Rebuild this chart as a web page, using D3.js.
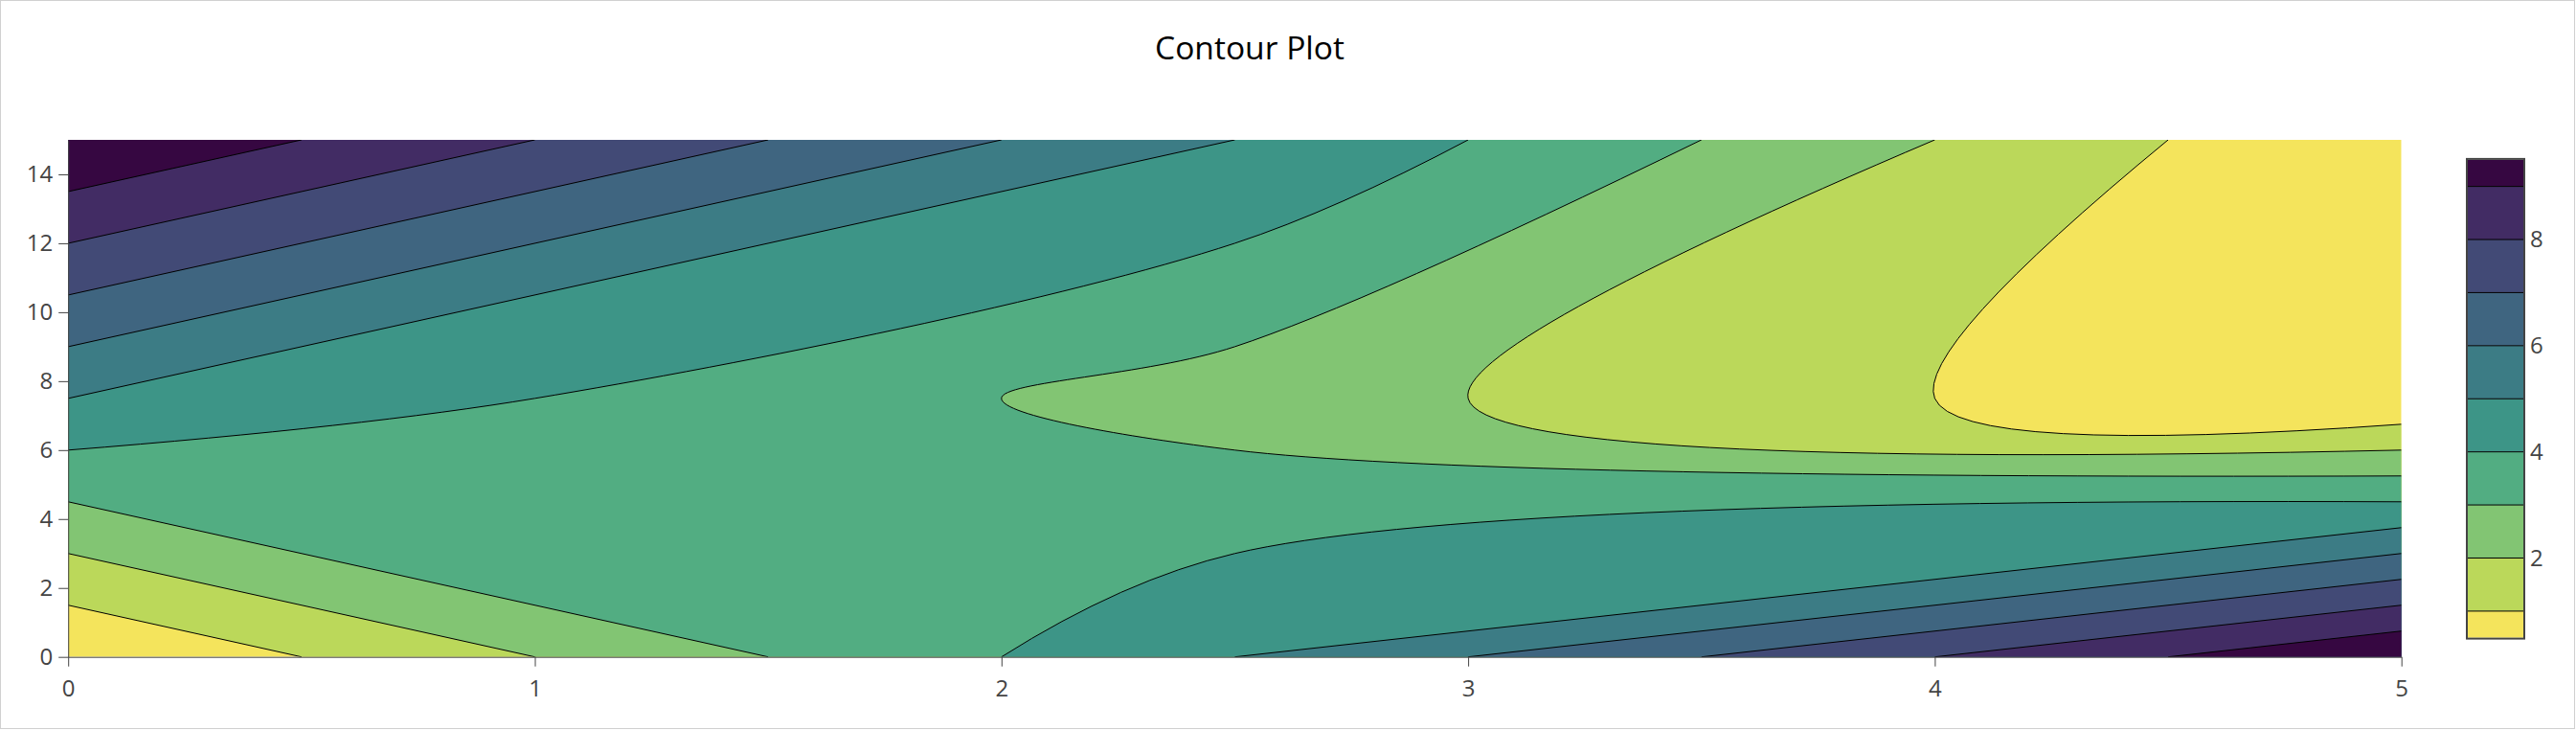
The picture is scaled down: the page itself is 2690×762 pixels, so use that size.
<!DOCTYPE html>
<html>
<head>
<meta charset="utf-8">
<script src="https://cdn.jsdelivr.net/npm/d3@7"></script>
<style>
  html, body { margin: 0; padding: 0; background: #fff; }
  svg { display: block; }
</style>
</head>
<body>
<svg id="chart" width="2690" height="762"></svg>
<script>
// ---------------- data ----------------
const xValues = [0, 2.5, 5];          // grid columns
const yValues = [0, 7.5, 15];         // grid rows
const zRowY0  = [0, 5, 10];           // z at y = 0
const zRowY1  = [5, 2.5, 0];          // z at y = 7.5
const zRowY2  = [10, 5, 0];           // z at y = 15
const zValues = [zRowY0, zRowY1, zRowY2];
const contourLevels = [1, 2, 3, 4, 5, 6, 7, 8, 9];
const levelStep = 1;
const xTickValues = [0, 1, 2, 3, 4, 5];
const yTickValues = [0, 2, 4, 6, 8, 10, 12, 14];
const colorbarTickValues = [2, 4, 6, 8];
const titleText = "Contour Plot";

// ---------------- layout ----------------
const plotL = 71.2, plotR = 2507.7, plotT = 146, plotB = 685.7;
const cbX = 2576, cbW = 60, cbTop = 166.9, cbBottom = 665.6;
const FONT = "'Open Sans', 'DejaVu Sans', sans-serif";
const TXT = "#444";

const svg = d3.select("#chart");

const X0 = d3.min(xValues), X1 = d3.max(xValues);
const Y0 = d3.min(yValues), Y1 = d3.max(yValues);
const x = d3.scaleLinear().domain([X0, X1]).range([plotL, plotR]);
const y = d3.scaleLinear().domain([Y0, Y1]).range([plotB, plotT]);
const cMin = contourLevels[0] - levelStep / 2;
const cMax = contourLevels[contourLevels.length - 1] + levelStep / 2;
const viridis = d3.scaleSequential(d3.interpolateViridis).domain([cMax, cMin]);
// the reference renders the viridis scale somewhat muted
function color(v) {
  const c = d3.rgb(viridis(v));
  const L = 0.2126 * c.r + 0.7152 * c.g + 0.0722 * c.b;
  const s = 0.7;
  return d3.rgb(L + s * (c.r - L), L + s * (c.g - L), L + s * (c.b - L)).formatHex();
}

// ---------------- marching squares ----------------
function tracePaths(level) {
  const nx = xValues.length, ny = yValues.length;
  const pts = new Map();
  const node = (i, j) => ({ i, j, v: zValues[j][i] });
  const isHigh = n => n.v > level;
  function crossing(a, b, key) {
    if (pts.has(key)) return pts.get(key);
    const t = (level - a.v) / (b.v - a.v);
    const p = {
      key,
      dx: xValues[a.i] + t * (xValues[b.i] - xValues[a.i]),
      dy: yValues[a.j] + t * (yValues[b.j] - yValues[a.j]),
      high: isHigh(a) ? a : b,
      segs: []
    };
    pts.set(key, p);
    return p;
  }
  const segments = [];
  for (let j = 0; j < ny - 1; j++) {
    for (let i = 0; i < nx - 1; i++) {
      const bl = node(i, j), br = node(i + 1, j), tl = node(i, j + 1), tr = node(i + 1, j + 1);
      const edges = {
        b: [bl, br, "h" + i + "_" + j],
        t: [tl, tr, "h" + i + "_" + (j + 1)],
        l: [bl, tl, "v" + i + "_" + j],
        r: [br, tr, "v" + (i + 1) + "_" + j]
      };
      const cut = {};
      for (const k in edges) {
        const [a, b, key] = edges[k];
        if (isHigh(a) !== isHigh(b)) cut[k] = crossing(a, b, key);
      }
      const ks = Object.keys(cut);
      if (ks.length === 2) {
        segments.push([cut[ks[0]], cut[ks[1]]]);
      } else if (ks.length === 4) {
        const avg = (bl.v + br.v + tl.v + tr.v) / 4;
        const isolateHigh = level > avg;
        const corners = [[bl, "b", "l"], [br, "b", "r"], [tr, "r", "t"], [tl, "t", "l"]];
        for (const [c, e1, e2] of corners) {
          if (isHigh(c) === isolateHigh) segments.push([cut[e1], cut[e2]]);
        }
      }
    }
  }
  segments.forEach((s, idx) => { s[0].segs.push(idx); s[1].segs.push(idx); });
  const used = new Array(segments.length).fill(false);
  function walk(start) {
    const path = [start];
    let cur = start;
    for (;;) {
      const si = cur.segs.find(s => !used[s]);
      if (si === undefined) break;
      used[si] = true;
      const s = segments[si];
      const nxt = s[0] === cur ? s[1] : s[0];
      path.push(nxt);
      cur = nxt;
    }
    return path;
  }
  const open = [], closed = [];
  for (const p of pts.values()) {
    if (p.segs.length === 1 && !used[p.segs[0]]) open.push(walk(p));
  }
  for (let si = 0; si < segments.length; si++) {
    if (!used[si]) { const loop = walk(segments[si][0]); loop.pop(); closed.push(loop); }
  }
  return { open, closed };
}

// perimeter parameter, clockwise on screen starting at top-left
function perim(dx, dy) {
  const e = 1e-9;
  if (Math.abs(dy - Y1) < e) return (dx - X0) / (X1 - X0);
  if (Math.abs(dx - X1) < e) return 1 + (Y1 - dy) / (Y1 - Y0);
  if (Math.abs(dy - Y0) < e) return 2 + (X1 - dx) / (X1 - X0);
  return 3 + (dy - Y0) / (Y1 - Y0);
}
const mod4 = v => ((v % 4) + 4) % 4;

// ---------------- Plotly-like spline smoothing ----------------
function tangent(prev, cur, next, smooth) {
  const d1x = prev[0] - cur[0], d1y = prev[1] - cur[1];
  const d2x = next[0] - cur[0], d2y = next[1] - cur[1];
  const d1a = Math.pow(d1x * d1x + d1y * d1y, 0.25);
  const d2a = Math.pow(d2x * d2x + d2y * d2y, 0.25);
  const numx = (d2a * d2a * d1x - d1a * d1a * d2x) * smooth;
  const numy = (d2a * d2a * d1y - d1a * d1a * d2y) * smooth;
  const den1 = 3 * d2a * (d1a + d2a), den2 = 3 * d1a * (d1a + d2a);
  return [
    [cur[0] + (den1 && numx / den1), cur[1] + (den1 && numy / den1)],
    [cur[0] - (den2 && numx / den2), cur[1] - (den2 && numy / den2)]
  ];
}
function smoothOpen(ctx, pts, moveFirst) {
  if (moveFirst) ctx.moveTo(pts[0][0], pts[0][1]); else ctx.lineTo(pts[0][0], pts[0][1]);
  if (pts.length < 3) { for (let i = 1; i < pts.length; i++) ctx.lineTo(pts[i][0], pts[i][1]); return; }
  const tg = [];
  for (let i = 1; i < pts.length - 1; i++) tg.push(tangent(pts[i - 1], pts[i], pts[i + 1], 1));
  ctx.quadraticCurveTo(tg[0][0][0], tg[0][0][1], pts[1][0], pts[1][1]);
  for (let i = 2; i < pts.length - 1; i++) {
    ctx.bezierCurveTo(tg[i - 2][1][0], tg[i - 2][1][1], tg[i - 1][0][0], tg[i - 1][0][1], pts[i][0], pts[i][1]);
  }
  const last = tg[pts.length - 3][1];
  ctx.quadraticCurveTo(last[0], last[1], pts[pts.length - 1][0], pts[pts.length - 1][1]);
}
function smoothClosed(ctx, pts) {
  const n = pts.length;
  ctx.moveTo(pts[0][0], pts[0][1]);
  if (n < 3) { for (let i = 1; i < n; i++) ctx.lineTo(pts[i][0], pts[i][1]); ctx.closePath(); return; }
  const tg = pts.map((p, i) => tangent(pts[(i - 1 + n) % n], p, pts[(i + 1) % n], 1));
  for (let i = 1; i <= n; i++) {
    const p = pts[i % n];
    ctx.bezierCurveTo(tg[i - 1][1][0], tg[i - 1][1][1], tg[i % n][0][0], tg[i % n][0][1], p[0], p[1]);
  }
  ctx.closePath();
}

// ---------------- build level geometry ----------------
const toPx = q => [x(q.dx), y(q.dy)];
const levelInfo = contourLevels.map(level => {
  const { open, closed } = tracePaths(level);
  const oriented = open.map(p => {
    const e = p[0];
    const sE = perim(e.dx, e.dy);
    const sH = perim(xValues[e.high.i], yValues[e.high.j]);
    if (!(mod4(sE - sH) < 2)) p = p.slice().reverse();
    return {
      px: p.map(toPx),
      s0: perim(p[0].dx, p[0].dy),
      s1: perim(p[p.length - 1].dx, p[p.length - 1].dy)
    };
  });
  return { level, open: oriented, closed: closed.map(l => l.map(toPx)) };
});

const perimCorners = [[X0, Y1], [X1, Y1], [X1, Y0], [X0, Y0]];
function fillPath(info) {
  const ctx = d3.path();
  const paths = info.open;
  if (!paths.length && zValues[0][0] > info.level) {
    perimCorners.forEach((c, i) => i ? ctx.lineTo(x(c[0]), y(c[1])) : ctx.moveTo(x(c[0]), y(c[1])));
    ctx.closePath();
  }
  const used = new Set();
  for (let a = 0; a < paths.length; a++) {
    if (used.has(a)) continue;
    let cur = a, first = true;
    for (;;) {
      used.add(cur);
      const P = paths[cur];
      smoothOpen(ctx, P.px, first);
      first = false;
      let best = -1, bestD = Infinity;
      for (let b = 0; b < paths.length; b++) {
        if (used.has(b) && b !== a) continue;
        const d = mod4(paths[b].s0 - P.s1);
        if (d < bestD) { bestD = d; best = b; }
      }
      let c = Math.floor(P.s1 + 1e-9) + 1;
      while (c < P.s1 + bestD - 1e-9) {
        const cc = perimCorners[c % 4];
        ctx.lineTo(x(cc[0]), y(cc[1]));
        c++;
      }
      if (best === a) { ctx.closePath(); break; }
      cur = best;
    }
  }
  info.closed.forEach(loop => smoothClosed(ctx, loop));
  return ctx.toString();
}
function linePath(info) {
  const ctx = d3.path();
  info.open.forEach(p => smoothOpen(ctx, p.px, true));
  info.closed.forEach(loop => smoothClosed(ctx, loop));
  return ctx.toString();
}

// ---------------- draw ----------------
svg.append("rect")
  .attr("x", 0.5).attr("y", 0.5).attr("width", 2688).attr("height", 760)
  .attr("fill", "#fff").attr("stroke", "#d0d0d0").attr("stroke-width", 1);

const defs = svg.append("defs");
defs.append("clipPath").attr("id", "plotclip")
  .append("rect")
  .attr("x", x(X0)).attr("y", y(Y1))
  .attr("width", x(X1) - x(X0)).attr("height", y(Y0) - y(Y1));

const plot = svg.append("g").attr("clip-path", "url(#plotclip)");
plot.append("rect")
  .attr("x", x(X0)).attr("y", y(Y1))
  .attr("width", x(X1) - x(X0)).attr("height", y(Y0) - y(Y1))
  .attr("fill", color(cMin));

plot.append("g").selectAll("path")
  .data(levelInfo)
  .join("path")
  .attr("d", fillPath)
  .attr("fill", d => color(d.level + levelStep / 2))
  .attr("fill-rule", "evenodd")
  .attr("stroke", "none");

plot.append("g").selectAll("path")
  .data(levelInfo)
  .join("path")
  .attr("d", linePath)
  .attr("fill", "none")
  .attr("stroke", "#000")
  .attr("stroke-width", 1);

// axes
function styleAxis(g) {
  g.attr("font-family", FONT).attr("font-size", 24);
  g.selectAll("text").attr("fill", TXT);
  g.selectAll("line").attr("stroke", TXT).attr("stroke-width", 1);
  g.select(".domain").attr("stroke", TXT).attr("stroke-width", 1);
}
svg.append("g")
  .attr("transform", `translate(0,${plotB})`)
  .call(d3.axisBottom(x).tickValues(xTickValues).tickFormat(d3.format("d"))
    .tickSize(10).tickSizeOuter(0).tickPadding(14))
  .call(styleAxis);
svg.append("g")
  .attr("transform", `translate(${plotL},0)`)
  .call(d3.axisLeft(y).tickValues(yTickValues).tickFormat(d3.format("d"))
    .tickSize(10).tickSizeOuter(0).tickPadding(6))
  .call(styleAxis);

// colorbar
const cbY = d3.scaleLinear().domain([cMin, cMax]).range([cbBottom, cbTop]);
const bandEdges = [cMin, ...contourLevels, cMax];
const bands = d3.pairs(bandEdges).map(([lo, hi], i) => ({
  lo, hi, fill: i === 0 ? color(cMin) : color(contourLevels[i - 1] + levelStep / 2)
}));
const cb = svg.append("g");
cb.selectAll("rect.band")
  .data(bands)
  .join("rect")
  .attr("class", "band")
  .attr("x", cbX).attr("width", cbW)
  .attr("y", d => cbY(d.hi)).attr("height", d => cbY(d.lo) - cbY(d.hi))
  .attr("fill", d => d.fill);
cb.selectAll("line.lev")
  .data(contourLevels)
  .join("line")
  .attr("class", "lev")
  .attr("x1", cbX).attr("x2", cbX + cbW)
  .attr("y1", d => cbY(d)).attr("y2", d => cbY(d))
  .attr("stroke", "#000").attr("stroke-width", 1);
cb.append("rect")
  .attr("x", cbX).attr("y", cbY(cMax) - 1)
  .attr("width", cbW).attr("height", cbY(cMin) - cbY(cMax) + 2)
  .attr("fill", "none").attr("stroke", TXT).attr("stroke-width", 2);
svg.append("g")
  .attr("transform", `translate(${cbX + cbW},0)`)
  .call(d3.axisRight(cbY).tickValues(colorbarTickValues).tickFormat(d3.format("d"))
    .tickSize(0).tickPadding(6))
  .call(g => g.select(".domain").remove())
  .call(g => g.attr("font-family", FONT).attr("font-size", 24))
  .call(g => g.selectAll("text").attr("fill", TXT));

// title
svg.append("text")
  .attr("x", 1305).attr("y", 62)
  .attr("text-anchor", "middle")
  .attr("font-family", FONT)
  .attr("font-size", 33.6)
  .attr("fill", "#000")
  .text(titleText);
</script>
</body>
</html>
